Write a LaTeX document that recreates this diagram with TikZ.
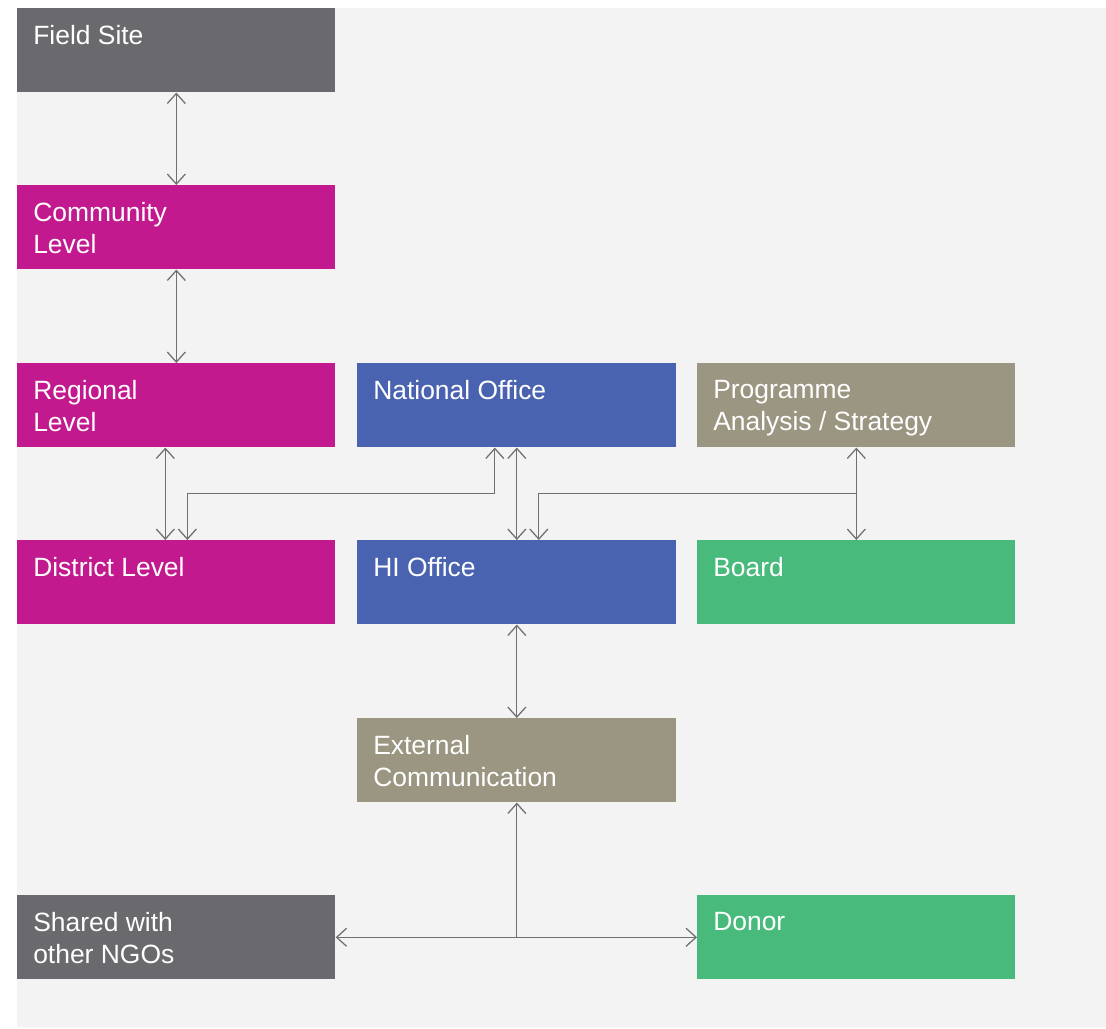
\documentclass[tikz,border=0pt]{standalone}
\usepackage{fontspec}
\setmainfont{Liberation Sans}
\usetikzlibrary{arrows.meta}
\definecolor{sitegray}{HTML}{6A6A6E}
\definecolor{levelpink}{HTML}{C21A8E}
\definecolor{officeblue}{HTML}{4A63B1}
\definecolor{stratgray}{HTML}{9B9682}
\definecolor{boardgreen}{HTML}{48BB7C}
\definecolor{panelgray}{HTML}{F3F3F3}
\definecolor{linkgray}{HTML}{707070}
\tikzset{
        unit/.style={minimum width=7.95cm, minimum height=2.1cm, anchor=north west, inner sep=0pt,
                label={[anchor=north west, xshift=0.4cm, yshift=-0.43cm, inner sep=0pt, text=white, align=left,
                        font=\fontsize{18.8}{22.8}\selectfont]north west:{#1}}},
        tip/.tip={Straight Barb[length=0.25cm, width=0.45cm]},
        link/.style={linkgray, line width=0.9pt},
}
\begin{document}
\begin{tikzpicture}[x=0.025cm, y=-0.025cm]
        \useasboundingbox (0,0) rectangle (1106,1029);
        \fill[panelgray] (17,8) rectangle (1106,1027);
        \node[unit={Field Site}, fill=sitegray] (site) at (17,8) {};
        \node[unit={Community\\Level}, fill=levelpink] (comm) at (17,185) {};
        \node[unit={Regional\\Level}, fill=levelpink] (reg) at (17,363) {};
        \node[unit={District Level}, fill=levelpink] (dist) at (17,540) {};
        \node[unit={National Office}, fill=officeblue, minimum width=7.975cm] (nat) at (357,363) {};
        \node[unit={HI Office}, fill=officeblue, minimum width=7.975cm] (hi) at (357,540) {};
        \node[unit={External\\Communication}, fill=stratgray, minimum width=7.975cm] (ext) at (357,718) {};
        \node[unit={Programme\\Analysis / Strategy}, fill=stratgray] (strat) at (697,363) {};
        \node[unit={Board}, fill=boardgreen] (board) at (697,540) {};
        \node[unit={Shared with\\other NGOs}, fill=sitegray] (ngo) at (17,895) {};
        \node[unit={Donor}, fill=boardgreen] (donor) at (697,895) {};
        \draw[link, tip-tip] (site.south) -- (comm.north);
        \draw[link, tip-tip] (comm.south) -- (reg.north);
        \draw[link, tip-tip] ([xshift=-0.275cm]reg.south) -- ([xshift=-0.275cm]dist.north);
        \draw[link, tip-tip] ([xshift=-0.55cm]nat.south) -- ++(0,46) -| ([xshift=0.275cm]dist.north);
        \draw[link, tip-tip] (nat.south) -- (hi.north);
        \draw[link, tip-tip] (strat.south) -- (board.north);
        \draw[link, -tip] (strat.south) ++(0,46) -| ([xshift=0.55cm]hi.north);
        \draw[link, tip-tip] (hi.south) -- (ext.north);
        \draw[link, tip-] (ext.south) -- (ext.south |- ngo.east);
        \draw[link, tip-tip] (ngo.east) -- (donor.west);
\end{tikzpicture}
\end{document}
